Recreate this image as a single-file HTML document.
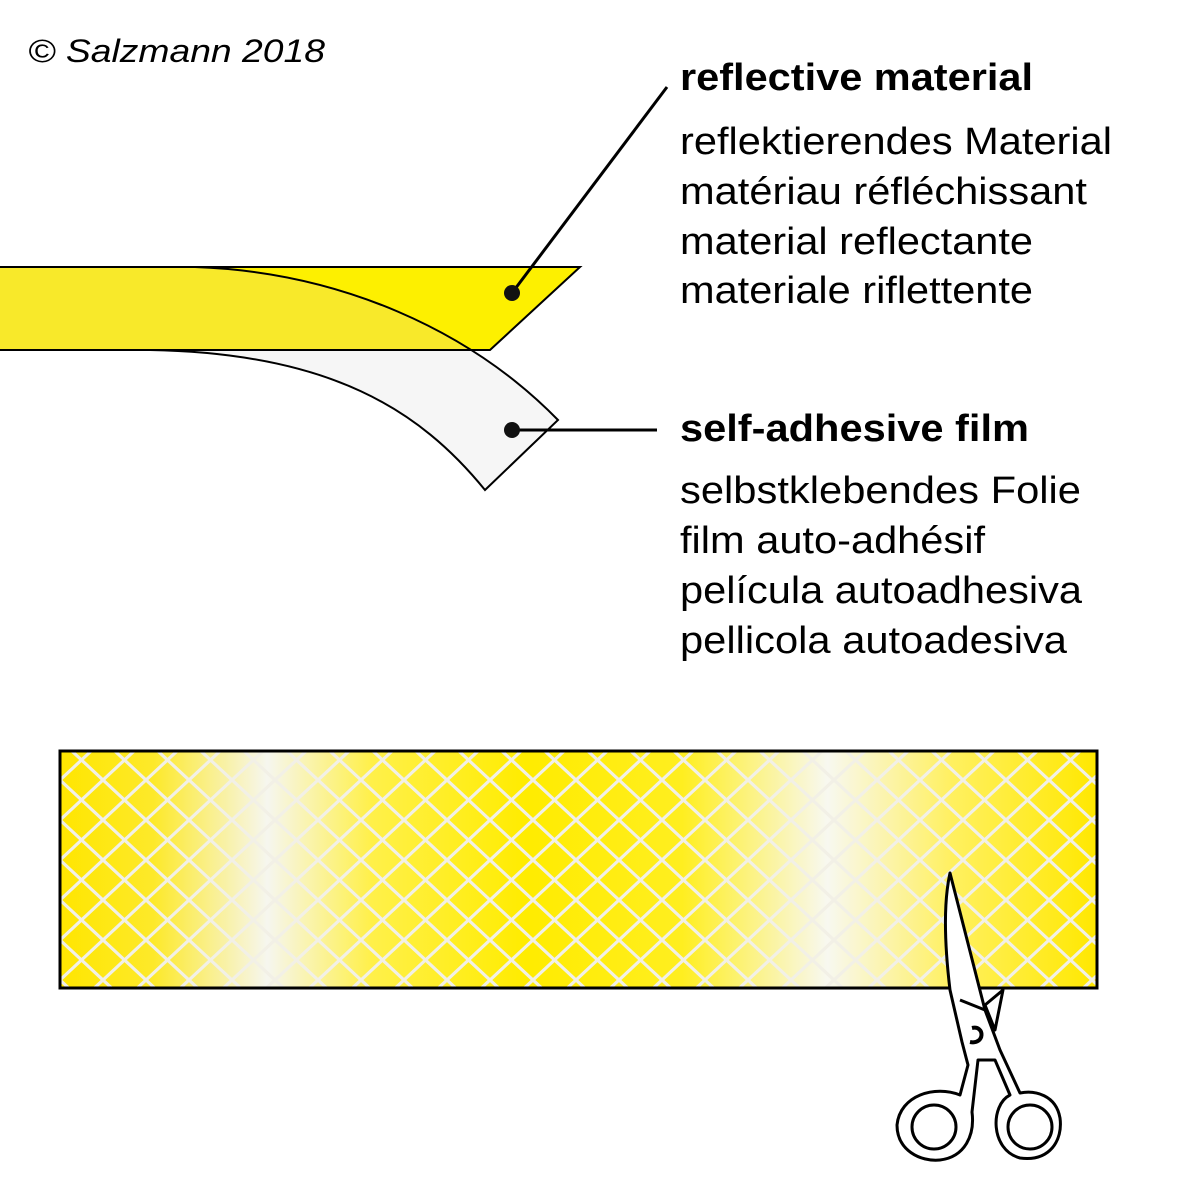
<!DOCTYPE html>
<html><head><meta charset="utf-8"><style>html,body{margin:0;padding:0;background:#fff}svg{display:block}</style></head>
<body>
<svg width="1193" height="1193" viewBox="0 0 1193 1193" xmlns="http://www.w3.org/2000/svg" font-family="Liberation Sans, Arial, sans-serif">
<defs>
<linearGradient id="g" x1="60" y1="0" x2="1097" y2="0" gradientUnits="userSpaceOnUse">
<stop offset="0" stop-color="#ffe600"/>
<stop offset="0.09" stop-color="#fde92a"/>
<stop offset="0.2" stop-color="#f6f6ef"/>
<stop offset="0.3" stop-color="#fff04a"/>
<stop offset="0.45" stop-color="#ffec00"/>
<stop offset="0.6" stop-color="#ffee20"/>
<stop offset="0.74" stop-color="#f8f8f0"/>
<stop offset="0.86" stop-color="#fff060"/>
<stop offset="1" stop-color="#ffe800"/>
</linearGradient>
<pattern id="p" x="60" y="740" width="43" height="40" patternUnits="userSpaceOnUse">
<path d="M-21.5 -20 L64.5 60 M64.5 -20 L-21.5 60" stroke="#f2f0e6" stroke-width="3.2" fill="none"/>
</pattern>
<clipPath id="yc"><path d="M0 267 L580 267 L490 350 L0 350 Z"/></clipPath>
</defs>
<text x="28" y="62" font-size="32" font-style="italic" textLength="297" lengthAdjust="spacingAndGlyphs">© Salzmann 2018</text>

<!-- film full shape -->
<path id="film" d="M195 267 C340 272 470 330 558 420 L485 490 C420 410 330 353 150 350 L0 350 L0 267 Z" fill="#f6f6f6"/>
<path d="M0 267 L580 267 L490 350 L0 350 Z" fill="#fdf000"/>
<path d="M195 267 C340 272 470 330 558 420 L485 490 C420 410 330 353 150 350 L0 350 L0 267 Z" fill="#f8e92a" clip-path="url(#yc)"/>
<path d="M0 267 L580 267 L490 350 L0 350" fill="none" stroke="#000" stroke-width="2"/>
<path d="M195 267 C340 272 470 330 558 420 L485 490 C420 410 330 353 150 350" fill="none" stroke="#000" stroke-width="2"/>

<!-- leaders -->
<line x1="512" y1="293" x2="667" y2="87" stroke="#000" stroke-width="3"/>
<circle cx="512" cy="293" r="8" fill="#111"/>
<line x1="512" y1="430" x2="657" y2="430" stroke="#000" stroke-width="3"/>
<circle cx="512" cy="430" r="8" fill="#111"/>

<g font-size="38" fill="#000" lengthAdjust="spacingAndGlyphs">
<text x="680" y="90" font-weight="bold" textLength="353" lengthAdjust="spacingAndGlyphs">reflective material</text>
<text x="680" y="154" textLength="432" lengthAdjust="spacingAndGlyphs">reflektierendes Material</text>
<text x="680" y="204" textLength="407" lengthAdjust="spacingAndGlyphs">matériau réfléchissant</text>
<text x="680" y="254" textLength="353" lengthAdjust="spacingAndGlyphs">material reflectante</text>
<text x="680" y="303" textLength="353" lengthAdjust="spacingAndGlyphs">materiale riflettente</text>
<text x="680" y="441" font-weight="bold" textLength="349" lengthAdjust="spacingAndGlyphs">self-adhesive film</text>
<text x="680" y="503" textLength="401" lengthAdjust="spacingAndGlyphs">selbstklebendes Folie</text>
<text x="680" y="553" textLength="305" lengthAdjust="spacingAndGlyphs">film auto-adhésif</text>
<text x="680" y="603" textLength="402" lengthAdjust="spacingAndGlyphs">película autoadhesiva</text>
<text x="680" y="653" textLength="387" lengthAdjust="spacingAndGlyphs">pellicola autoadesiva</text>
</g>

<!-- tape -->
<rect x="60" y="751" width="1037" height="237" fill="url(#g)"/>
<rect x="60" y="751" width="1037" height="237" fill="url(#p)"/>
<rect x="60" y="751" width="1037" height="237" fill="none" stroke="#000" stroke-width="3"/>

<!-- scissors -->
<g stroke="#000" stroke-width="3" fill="#fff" stroke-linejoin="round">
<path d="M1003 990 L995 1030 L985 1005 Z" fill="#fff"/>
<path d="M950 873 C944 900 944 940 950 990 L962 1042 L968 1065 L960 1095 C935 1085 900 1095 897 1125 C897 1150 920 1162 940 1160 C965 1157 975 1135 972 1112 L978 1060 L995 1060 L1010 1095 C990 1105 990 1150 1020 1158 C1050 1162 1063 1140 1060 1118 C1056 1095 1035 1090 1020 1093 L1000 1050 L985 1010 Z"/>
<circle cx="934" cy="1127" r="22"/>
<circle cx="1030" cy="1127" r="22"/>
<path d="M960 1000 L985 1010" fill="none"/>
<path d="M972 1028 C985 1025 985 1045 970 1042" fill="none" stroke-width="4"/>
</g>
</svg>
</body></html>
